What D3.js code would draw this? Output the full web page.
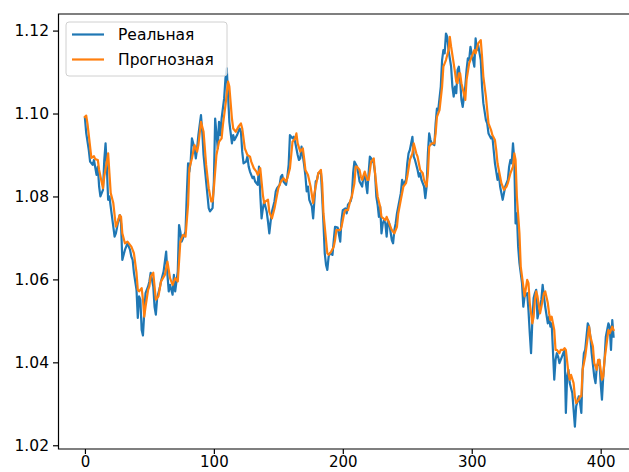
<!DOCTYPE html>
<html><head><meta charset="utf-8">
<script src="https://cdn.jsdelivr.net/npm/d3@7"></script>
<style>body{margin:0;background:#fff}svg{display:block}text{font-family:"DejaVu Sans",sans-serif}</style>
</head><body><svg id="c" width="629" height="472"></svg>
<script>
const seriesNames = ["Реальная", "Прогнозная"];
const realIdx = [0,1,3,4,6,7,9,10,11,12,14,15,16,17,18,19,20,22,23,24,26,27,28,29,31,32,33,35,36,37,38,40,41,42,43,44,45,46,47,49,50,51,53,54,55,56,58,59,61,62,63,64,65,66,68,69,70,72,73,74,75,77,78,79,80,81,82,83,85,86,87,88,90,91,92,94,95,96,97,99,100,101,103,104,105,106,108,109,110,111,112,114,115,116,118,120,121,122,123,125,126,127,128,130,131,132,134,135,136,137,138,139,141,142,143,144,145,147,148,149,151,152,153,154,156,157,158,159,161,162,163,165,166,167,168,170,171,172,173,174,176,177,178,179,180,181,183,184,185,186,187,188,189,190,192,193,194,196,198,199,200,202,203,204,206,207,208,209,211,212,213,215,216,217,219,220,221,222,224,225,226,227,228,229,230,231,232,233,234,235,236,238,239,240,241,242,243,245,246,247,249,250,251,252,254,255,256,258,259,260,261,263,264,265,266,267,268,269,271,272,273,274,276,277,278,279,280,281,282,284,285,286,287,288,289,290,291,292,293,295,296,297,298,299,300,302,303,304,305,307,308,309,311,312,313,315,316,317,318,320,321,322,324,325,326,328,329,330,331,332,333,334,335,336,337,339,340,341,343,344,345,346,347,348,349,350,351,353,354,355,356,357,359,360,361,362,364,365,366,367,368,370,371,372,373,374,375,376,378,379,380,381,383,384,385,386,387,388,390,391,392,393,395,396,397,399,400,401,402,403,404,406,407,408,409,410];
const realVal = [1.0989,1.0953,1.0912,1.0884,1.0876,1.0888,1.0852,1.0872,1.0824,1.0800,1.0816,1.0888,1.0928,1.0870,1.0792,1.0800,1.0775,1.0727,1.0703,1.0711,1.0743,1.0755,1.0735,1.0647,1.0671,1.0679,1.0687,1.0671,1.0655,1.0647,1.0616,1.0575,1.0507,1.0559,1.0551,1.0478,1.0465,1.0519,1.0567,1.0583,1.0595,1.0616,1.0583,1.0534,1.0515,1.0555,1.0579,1.0595,1.0619,1.0643,1.0667,1.0611,1.0571,1.0587,1.0563,1.0611,1.0571,1.0619,1.0731,1.0715,1.0691,1.0707,1.0715,1.0804,1.0880,1.0860,1.0884,1.0940,1.0916,1.0892,1.0916,1.0948,1.0996,1.0956,1.0900,1.0836,1.0804,1.0772,1.0764,1.0772,1.0836,1.0988,1.0916,1.0980,1.0948,1.0988,1.1037,1.1085,1.1109,1.1045,1.0980,1.0928,1.0948,1.0936,1.0948,1.0964,1.0956,1.0908,1.0880,1.0884,1.0896,1.0872,1.0860,1.0844,1.0848,1.0836,1.0828,1.0872,1.0804,1.0747,1.0771,1.0788,1.0763,1.0739,1.0711,1.0739,1.0763,1.0788,1.0812,1.0820,1.0828,1.0848,1.0852,1.0836,1.0828,1.0848,1.0876,1.0948,1.0940,1.0944,1.0932,1.0900,1.0888,1.0892,1.0920,1.0876,1.0850,1.0812,1.0824,1.0792,1.0776,1.0747,1.0792,1.0836,1.0840,1.0856,1.0860,1.0800,1.0735,1.0663,1.0635,1.0623,1.0655,1.0663,1.0659,1.0695,1.0727,1.0725,1.0691,1.0743,1.0767,1.0771,1.0759,1.0780,1.0788,1.0800,1.0856,1.0884,1.0872,1.0856,1.0836,1.0824,1.0848,1.0852,1.0808,1.0856,1.0896,1.0892,1.0880,1.0856,1.0800,1.0780,1.0751,1.0775,1.0711,1.0735,1.0743,1.0735,1.0703,1.0743,1.0735,1.0695,1.0687,1.0719,1.0735,1.0759,1.0775,1.0808,1.0840,1.0828,1.0840,1.0880,1.0904,1.0912,1.0944,1.0896,1.0888,1.0864,1.0848,1.0856,1.0840,1.0824,1.0796,1.0824,1.0904,1.0952,1.0936,1.0928,1.0924,1.0976,1.1012,1.1008,1.1065,1.1129,1.1153,1.1145,1.1193,1.1185,1.1153,1.1113,1.1065,1.1041,1.1065,1.1049,1.1105,1.1113,1.1081,1.1033,1.1016,1.1065,1.1105,1.1133,1.1129,1.1161,1.1145,1.1113,1.1181,1.1153,1.1165,1.1129,1.1065,1.1025,1.0984,1.0976,1.0952,1.0940,1.0944,1.0912,1.0880,1.0840,1.0856,1.0824,1.0792,1.0808,1.0824,1.0840,1.0872,1.0888,1.0880,1.0928,1.0888,1.0735,1.0759,1.0679,1.0639,1.0591,1.0534,1.0559,1.0567,1.0526,1.0470,1.0422,1.0500,1.0555,1.0567,1.0575,1.0506,1.0534,1.0551,1.0587,1.0559,1.0534,1.0494,1.0510,1.0486,1.0494,1.0358,1.0406,1.0422,1.0414,1.0398,1.0414,1.0422,1.0430,1.0278,1.0366,1.0382,1.0350,1.0326,1.0286,1.0245,1.0294,1.0318,1.0302,1.0278,1.0382,1.0422,1.0430,1.0494,1.0486,1.0462,1.0422,1.0366,1.0350,1.0390,1.0406,1.0350,1.0310,1.0366,1.0406,1.0462,1.0494,1.0486,1.0430,1.0502,1.0462];
const predIdx = [0,1,2,5,7,8,10,11,14,15,18,19,20,22,24,25,27,28,29,31,33,36,37,38,40,41,42,44,45,46,47,49,50,51,53,54,55,57,59,62,64,66,68,70,72,74,76,78,80,81,83,85,87,88,90,92,94,96,98,99,100,102,104,106,107,109,111,112,114,115,117,119,121,122,124,126,128,129,131,133,134,136,138,139,140,142,143,145,147,149,150,152,154,156,157,159,161,163,164,165,167,169,170,171,173,175,177,178,180,181,183,184,185,187,188,189,191,193,194,195,198,199,201,202,204,206,207,209,210,211,213,214,215,217,219,220,222,224,225,227,229,230,233,234,236,238,240,242,243,245,247,249,250,252,254,255,257,258,260,262,263,265,266,267,269,271,272,273,275,277,278,280,282,283,284,286,287,288,289,290,291,292,295,296,298,300,302,303,305,307,308,309,311,312,313,315,316,318,319,320,321,323,325,327,328,330,332,333,334,335,337,338,340,341,343,344,345,347,348,349,350,351,353,354,356,357,359,360,361,362,364,365,366,368,369,371,372,373,375,376,377,379,380,381,383,384,385,386,388,389,391,392,394,395,397,398,399,401,402,403,405,406,407,409,410];
const predVal = [1.0992,1.0995,1.0975,1.0893,1.0897,1.0890,1.0888,1.0864,1.0820,1.0848,1.0904,1.0856,1.0808,1.0784,1.0727,1.0735,1.0755,1.0751,1.0711,1.0687,1.0691,1.0679,1.0671,1.0663,1.0616,1.0575,1.0571,1.0579,1.0551,1.0510,1.0534,1.0575,1.0583,1.0607,1.0616,1.0583,1.0551,1.0559,1.0595,1.0611,1.0643,1.0603,1.0587,1.0603,1.0595,1.0691,1.0707,1.0703,1.0780,1.0868,1.0892,1.0924,1.0908,1.0924,1.0980,1.0956,1.0876,1.0820,1.0788,1.0788,1.0820,1.0900,1.0932,1.0940,1.0972,1.1020,1.1077,1.1065,1.0988,1.0964,1.0956,1.0968,1.0976,1.0964,1.0916,1.0900,1.0896,1.0884,1.0868,1.0860,1.0852,1.0868,1.0804,1.0784,1.0788,1.0792,1.0763,1.0747,1.0771,1.0804,1.0820,1.0836,1.0844,1.0836,1.0844,1.0868,1.0932,1.0940,1.0952,1.0928,1.0908,1.0916,1.0892,1.0864,1.0852,1.0824,1.0784,1.0808,1.0840,1.0856,1.0864,1.0832,1.0759,1.0695,1.0663,1.0659,1.0667,1.0679,1.0695,1.0719,1.0719,1.0727,1.0759,1.0767,1.0767,1.0792,1.0800,1.0832,1.0872,1.0872,1.0864,1.0848,1.0840,1.0860,1.0840,1.0840,1.0884,1.0892,1.0856,1.0800,1.0775,1.0751,1.0743,1.0751,1.0735,1.0719,1.0711,1.0727,1.0759,1.0792,1.0824,1.0832,1.0848,1.0888,1.0904,1.0928,1.0904,1.0896,1.0864,1.0856,1.0840,1.0824,1.0856,1.0920,1.0928,1.0928,1.0952,1.0992,1.1008,1.1065,1.1113,1.1129,1.1153,1.1185,1.1161,1.1121,1.1100,1.1077,1.1073,1.1097,1.1097,1.1073,1.1033,1.1081,1.1121,1.1137,1.1153,1.1145,1.1169,1.1177,1.1137,1.1089,1.1041,1.1008,1.0976,1.0960,1.0948,1.0936,1.0912,1.0880,1.0864,1.0832,1.0816,1.0824,1.0832,1.0856,1.0872,1.0904,1.0888,1.0800,1.0711,1.0631,1.0583,1.0559,1.0599,1.0591,1.0543,1.0494,1.0510,1.0551,1.0571,1.0559,1.0518,1.0534,1.0567,1.0571,1.0543,1.0518,1.0502,1.0510,1.0478,1.0430,1.0430,1.0422,1.0430,1.0430,1.0434,1.0430,1.0374,1.0358,1.0370,1.0350,1.0318,1.0302,1.0310,1.0318,1.0318,1.0382,1.0414,1.0438,1.0486,1.0462,1.0438,1.0398,1.0382,1.0406,1.0406,1.0358,1.0366,1.0406,1.0454,1.0478,1.0470,1.0486,1.0478];
const xTicks = [0, 100, 200, 300, 400];
const yTicks = [1.02, 1.04, 1.06, 1.08, 1.10, 1.12];

const svg = d3.select("#c");
const L = 58.5, T = 14, B = 449, R = 640;
const x = d3.scaleLinear().domain([-20.5, 430.5]).range([L, R]);
const y = d3.scaleLinear().domain([1.0191, 1.1240]).range([B, T]);
const fs = 15;

const real = realIdx.map((d, i) => [d, realVal[i]]);
const pred = predIdx.map((d, i) => [d, predVal[i]]);
const line = d3.line().x(d => x(d[0])).y(d => y(d[1]));

svg.append("path").datum(real).attr("d", line).attr("fill", "none")
  .attr("stroke", "#1f77b4").attr("stroke-width", 2.2).attr("stroke-linejoin", "round").attr("stroke-linecap", "square");
svg.append("path").datum(pred).attr("d", line).attr("fill", "none")
  .attr("stroke", "#ff7f0e").attr("stroke-width", 2.2).attr("stroke-linejoin", "round").attr("stroke-linecap", "square");

const xAxis = d3.axisBottom(x).tickValues(xTicks).tickFormat(d3.format("d")).tickSize(5).tickPadding(2);
const gx = svg.append("g").attr("transform", `translate(0,${B})`).call(xAxis);
const yAxis = d3.axisLeft(y).tickValues(yTicks).tickFormat(d3.format(".2f")).tickSize(5.5).tickPadding(4);
const gy = svg.append("g").attr("transform", `translate(${L},0)`).call(yAxis);
[gx, gy].forEach(g => {
  g.select(".domain").remove();
  g.selectAll(".tick line").attr("stroke", "#000").attr("stroke-width", 1.2);
  g.selectAll(".tick text").attr("fill", "#000").style("font-size", fs + "px").style("font-family", "DejaVu Sans");
});
gy.selectAll(".tick text").style("font-size", "15.5px");
// spines
svg.append("path").attr("d", `M${R},${T}H${L}V${B}H${R}`).attr("fill", "none").attr("stroke", "#000").attr("stroke-width", 1.2);

// legend
const lg = svg.append("g");
lg.append("rect").attr("x", 66).attr("y", 22).attr("width", 161).attr("height", 54).attr("rx", 3)
  .attr("fill", "#fff").attr("fill-opacity", 0.8).attr("stroke", "#d0d0d0").attr("stroke-width", 1);
const colors = ["#1f77b4", "#ff7f0e"];
seriesNames.forEach((n, i) => {
  const yy = 34.5 + i * 25;
  lg.append("line").attr("x1", 72).attr("x2", 104).attr("y1", yy).attr("y2", yy)
    .attr("stroke", colors[i]).attr("stroke-width", 2.2);
  lg.append("text").attr("x", 118).attr("y", yy).attr("dy", "0.35em").style("font-size", "15.5px").attr("fill", "#000").text(n);
});
</script></body></html>
